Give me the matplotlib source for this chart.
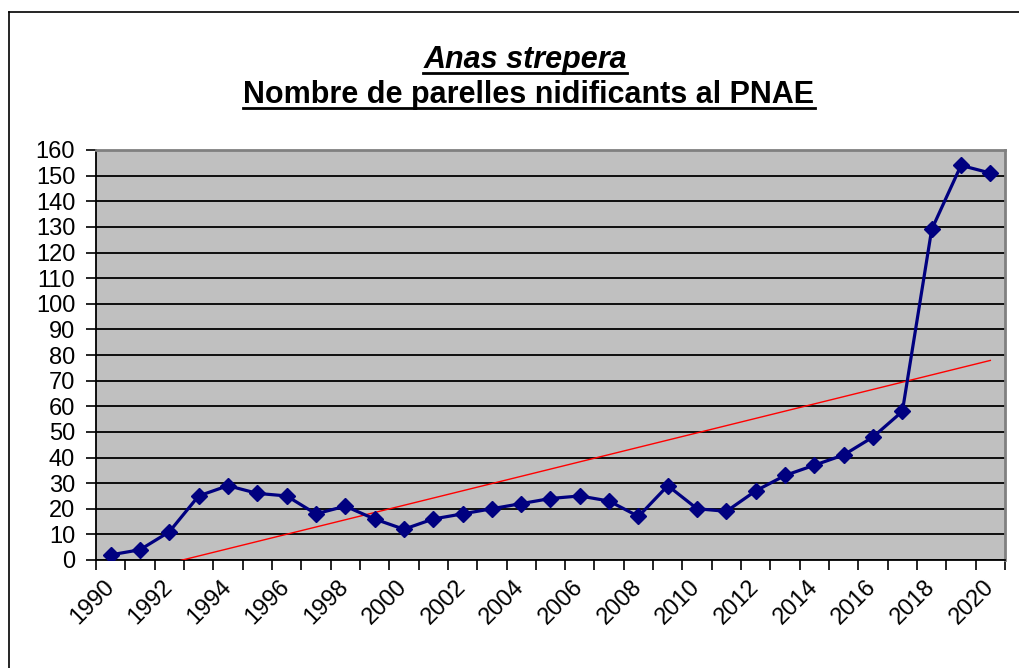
import numpy as np
import matplotlib
matplotlib.use('Agg')
import matplotlib.pyplot as plt
from matplotlib.lines import Line2D

plt.rcParams['font.family'] = ['Liberation Sans', 'DejaVu Sans']

# data
years = list(range(1990, 2021))
pairs = [2, 4, 11, 25, 29, 26, 25, 18, 21, 16, 12,
         16, 18, 20, 22, 24, 25, 23, 17, 29, 20,
         19, 27, 33, 37, 41, 48, 58, 129, 154, 151]
title_1 = 'Anas strepera'
title_2 = 'Nombre de parelles nidificants al PNAE'

fig = plt.figure(figsize=(10.19, 6.68), dpi=100)
W, H = 1019, 668
ax = fig.add_axes([96 / W, 1 - 560 / H, (1005 - 96) / W, (560 - 150) / H])
ax.set_facecolor('#c0c0c0')

x = np.arange(len(years))
ax.plot(x, pairs, color='#000080', lw=2.3, marker='D', markersize=8,
        markerfacecolor='#000080', markeredgecolor='#000080', zorder=4)

# linear trend line (excel style)
slope, icpt = np.polyfit(x, pairs, 1)
ax.plot(x, slope * x + icpt, color='#ff0000', lw=1.0, zorder=3)

ax.set_xlim(-0.5, len(years) - 0.5)
ax.set_ylim(0, 160)
ax.set_yticks(range(0, 161, 10))
ax.yaxis.grid(True, color='black', lw=1.3)
ax.set_axisbelow(True)

# category boundaries as ticks, labels every 2 years
ax.set_xticks(np.arange(-0.5, len(years), 1))
ax.set_xticklabels([])
ax.set_xticks(x[::2], [str(y) for y in years[::2]], minor=True)
ax.tick_params(axis='x', which='major', length=7, width=1.2, direction='out')
ax.tick_params(axis='x', which='minor', length=0, pad=17, labelsize=17)
ax.tick_params(axis='y', length=7, width=1.2, pad=8, labelsize=17)
for lbl in ax.get_xticklabels(minor=True):
    lbl.set_rotation(45)
    lbl.set_ha('right')
    lbl.set_va('center')
    lbl.set_rotation_mode('anchor')

for s in ['left', 'bottom']:
    ax.spines[s].set_color('black')
    ax.spines[s].set_linewidth(1.3)
for s in ['top', 'right']:
    ax.spines[s].set_color('#808080')
    ax.spines[s].set_linewidth(2)

# titles with underline
t1 = fig.text(525 / W, 1 - 68 / H, title_1, ha='center', va='baseline',
              fontsize=22, fontweight='bold', fontstyle='italic')
t2 = fig.text(529 / W, 1 - 103 / H, title_2, ha='center', va='baseline',
              fontsize=22, fontweight='bold')
fig.canvas.draw()
for t, base in [(t1, 68), (t2, 103)]:
    bb = t.get_window_extent()
    yy = 1 - (base + 5) / H
    fig.add_artist(Line2D([bb.x0 / W, bb.x1 / W], [yy, yy], color='black', lw=2))

# chart border
top = 1 - 12 / H
left = 8.5 / W
fig.add_artist(Line2D([left, left], [0, top], color='black', lw=1.2))
fig.add_artist(Line2D([left, 1], [top, top], color='black', lw=1.2))

fig.savefig('out.png', dpi=100)
